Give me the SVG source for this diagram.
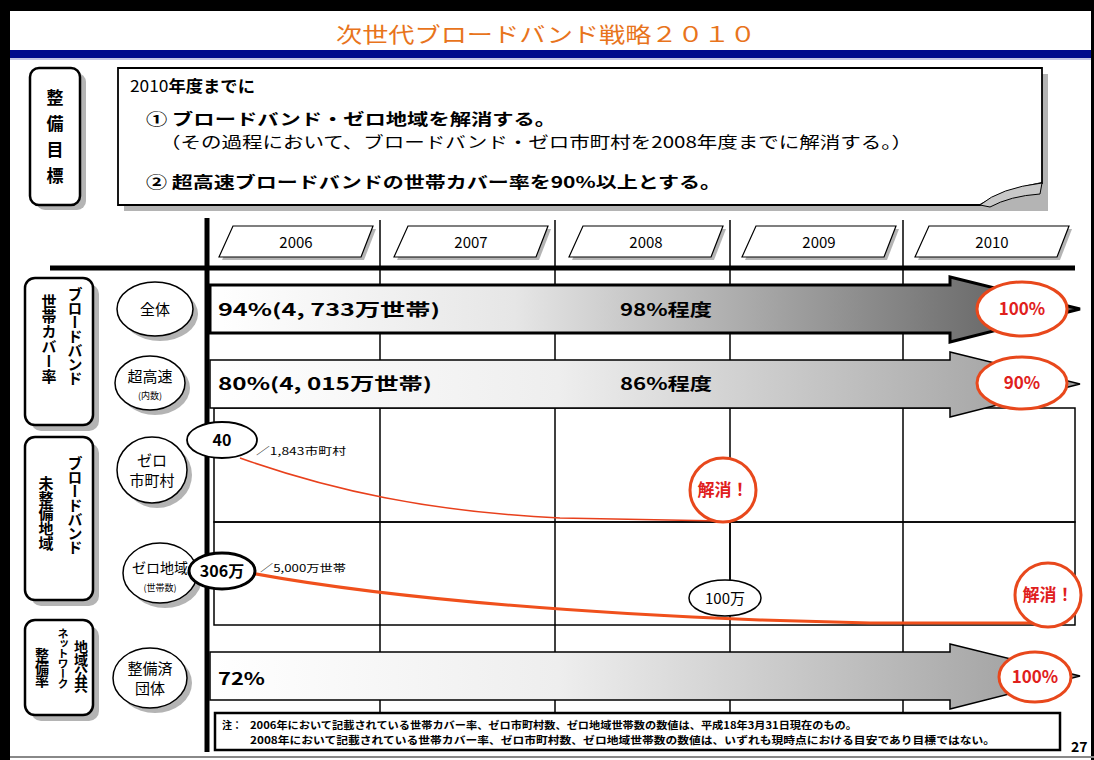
<svg xmlns="http://www.w3.org/2000/svg" width="1094" height="760" viewBox="0 0 1094 760">
<defs>
<style>
.jp{font-family:"Noto Sans CJK JP","Noto Sans",sans-serif}
.b{font-weight:bold}
.lbl{fill:#fff;stroke:#000;stroke-width:2.5}
.sh{fill:#b4b4b4}
.col{stroke:#000;stroke-width:1.5}
.red{fill:#fff;stroke:#e8481c;stroke-width:3}
.rt{fill:#e0201c;font-weight:bold;font-size:17px;text-anchor:middle}
</style>
<linearGradient id="g1" x1="0" x2="1" y1="0" y2="0">
<stop offset="0" stop-color="#ffffff"/><stop offset="0.35" stop-color="#e6e6e6"/><stop offset="1" stop-color="#555555"/>
</linearGradient>
<linearGradient id="g2" x1="0" x2="1" y1="0" y2="0">
<stop offset="0" stop-color="#ffffff"/><stop offset="0.4" stop-color="#eeeeee"/><stop offset="1" stop-color="#9a9a9a"/>
</linearGradient>
</defs>
<rect width="1094" height="760" fill="#fff"/>
<!-- frame -->
<rect x="0" y="0" width="1094" height="11" fill="#000"/>
<rect x="0" y="0" width="10" height="760" fill="#000"/>
<rect x="1091" y="0" width="3" height="760" fill="#000"/>
<line x1="10" y1="757" x2="1094" y2="757" stroke="#888" stroke-width="2"/>
<!-- title -->
<g id="title">
<text x="336" y="42" class="jp" font-size="21" fill="#e8741c" textLength="420" lengthAdjust="spacingAndGlyphs">次世代ブロードバンド戦略２０１０</text>
<rect x="10" y="50" width="1081" height="8" fill="#000c8c"/>
<line x1="10" y1="59" x2="1091" y2="59" stroke="#8890c8" stroke-width="1"/>
</g>
<!-- goal label -->
<g id="goal-label">
<rect x="36" y="73" width="50" height="137" rx="9" class="sh"/>
<rect x="30" y="68" width="50" height="137" rx="9" class="lbl"/>
<text class="jp b" font-size="17" text-anchor="middle"><tspan x="55" y="104">整</tspan><tspan x="55" y="130">備</tspan><tspan x="55" y="156">目</tspan><tspan x="55" y="182">標</tspan></text>
</g>
<!-- goal box -->
<g id="goal-box">
<path d="M124,74 H1048 V211 H124 Z" class="sh"/>
<path d="M118,68 H1042 V183 Q1005,190 980,205 H118 Z" fill="#fff" stroke="#000" stroke-width="1.8"/>
<path d="M980,205 Q1000,188 1042,183 L1040,194 Q1010,196 990,207 Z" fill="#c8c8c8" stroke="#000" stroke-width="1"/>
<text x="130" y="92" class="jp" font-size="16" textLength="125" lengthAdjust="spacingAndGlyphs"><tspan>2010</tspan><tspan font-weight="bold">年度までに</tspan></text>
<text x="146" y="125" class="jp b" font-size="16" textLength="410" lengthAdjust="spacingAndGlyphs">①  ブロードバンド・ゼロ地域を解消する。</text>
<text x="160" y="148" class="jp" font-size="16" textLength="752" lengthAdjust="spacingAndGlyphs">（その過程において、ブロードバンド・ゼロ市町村を2008年度までに解消する。）</text>
<text x="146" y="188" class="jp b" font-size="16" textLength="575" lengthAdjust="spacingAndGlyphs">②  超高速ブロードバンドの世帯カバー率を90%以上とする。</text>
</g>
<!-- grid -->
<g id="grid">
<line x1="380" y1="220" x2="380" y2="712" class="col"/>
<line x1="555" y1="220" x2="555" y2="712" class="col"/>
<line x1="730" y1="220" x2="730" y2="712" class="col"/>
<line x1="903" y1="220" x2="903" y2="712" class="col"/>
<rect x="214" y="408" width="861" height="114" fill="none" stroke="#000" stroke-width="1.5"/>
<rect x="214" y="522" width="861" height="103" fill="none" stroke="#000" stroke-width="1.5"/>
<line x1="50" y1="268" x2="1075" y2="268" stroke="#000" stroke-width="5"/>
<line x1="207" y1="218" x2="207" y2="752" stroke="#000" stroke-width="5"/>
</g>
<!-- years -->
<g id="years" class="jp" font-size="15" text-anchor="middle">
<g id="y2006"><polygon points="236,229 376,229 364,260 222,260" class="sh"/><polygon points="233,226 373,226 361,257 219,257" fill="#fff" stroke="#000" stroke-width="1.2"/><text x="296" y="248">2006</text></g>
<g id="y2007"><polygon points="411,229 551,229 539,260 397,260" class="sh"/><polygon points="408,226 548,226 536,257 394,257" fill="#fff" stroke="#000" stroke-width="1.2"/><text x="471" y="248">2007</text></g>
<g id="y2008"><polygon points="586,229 726,229 714,260 572,260" class="sh"/><polygon points="583,226 723,226 711,257 569,257" fill="#fff" stroke="#000" stroke-width="1.2"/><text x="646" y="248">2008</text></g>
<g id="y2009"><polygon points="759,229 899,229 887,260 745,260" class="sh"/><polygon points="756,226 896,226 884,257 742,257" fill="#fff" stroke="#000" stroke-width="1.2"/><text x="819" y="248">2009</text></g>
<g id="y2010"><polygon points="932,229 1072,229 1060,260 918,260" class="sh"/><polygon points="929,226 1069,226 1057,257 915,257" fill="#fff" stroke="#000" stroke-width="1.2"/><text x="992" y="248">2010</text></g>
</g>
<!-- category labels -->
<g id="cat-coverage">
<rect x="31" y="284" width="68" height="147" rx="10" class="sh"/>
<rect x="25" y="278" width="68" height="147" rx="10" class="lbl"/>
<text class="jp b" font-size="15" writing-mode="tb" glyph-orientation-vertical="0" x="75" y="287" letter-spacing="-1">ブロードバンド</text>
<text class="jp b" font-size="15" writing-mode="tb" glyph-orientation-vertical="0" x="49" y="294">世帯カバー率</text>
</g>
<g id="cat-unserved">
<rect x="31" y="443" width="68" height="163" rx="10" class="sh"/>
<rect x="25" y="437" width="68" height="163" rx="10" class="lbl"/>
<text class="jp b" font-size="15" writing-mode="tb" glyph-orientation-vertical="0" x="75" y="456" letter-spacing="-1">ブロードバンド</text>
<text class="jp b" font-size="15" writing-mode="tb" glyph-orientation-vertical="0" x="46" y="476">未整備地域</text>
</g>
<g id="cat-network">
<rect x="31" y="626" width="68" height="95" rx="10" class="sh"/>
<rect x="25" y="620" width="68" height="95" rx="10" class="lbl"/>
<text class="jp b" font-size="14" writing-mode="tb" glyph-orientation-vertical="0" x="81" y="640" letter-spacing="-1">地域公共</text>
<text class="jp b" font-size="11" writing-mode="tb" glyph-orientation-vertical="0" x="63" y="628" letter-spacing="-1">ネットワーク</text>
<text class="jp b" font-size="14" writing-mode="tb" glyph-orientation-vertical="0" x="42" y="648" letter-spacing="-1">整備率</text>
</g>
<!-- row labels -->
<g id="lbl-all"><ellipse cx="160" cy="314" rx="38" ry="27" class="sh"/><ellipse cx="155" cy="309" rx="38" ry="27" fill="#fff" stroke="#000" stroke-width="1.5"/><text x="155" y="315" class="jp" font-size="15" text-anchor="middle">全体</text></g>
<g id="lbl-ultra"><ellipse cx="155" cy="388" rx="35" ry="27" class="sh"/><ellipse cx="150" cy="383" rx="35" ry="27" fill="#fff" stroke="#000" stroke-width="1.5"/><text x="150" y="382" class="jp" font-size="15" text-anchor="middle">超高速</text><text x="150" y="399" class="jp" font-size="9" text-anchor="middle">(内数)</text></g>
<g id="lbl-zeromuni"><ellipse cx="157" cy="475" rx="35" ry="33" class="sh"/><ellipse cx="152" cy="470" rx="35" ry="33" fill="#fff" stroke="#000" stroke-width="1.5"/><text x="152" y="466" class="jp" font-size="15" text-anchor="middle">ゼロ</text><text x="152" y="486" class="jp" font-size="15" text-anchor="middle">市町村</text></g>
<g id="lbl-zeroarea"><ellipse cx="165" cy="578" rx="37" ry="30" class="sh"/><ellipse cx="160" cy="573" rx="37" ry="30" fill="#fff" stroke="#000" stroke-width="1.5"/><text x="160" y="573" class="jp" font-size="14" text-anchor="middle">ゼロ地域</text><text x="160" y="591" class="jp" font-size="9" text-anchor="middle">(世帯数)</text></g>
<g id="lbl-done"><ellipse cx="155" cy="683" rx="37" ry="30" class="sh"/><ellipse cx="150" cy="678" rx="37" ry="30" fill="#fff" stroke="#000" stroke-width="1.5"/><text x="150" y="674" class="jp" font-size="15" text-anchor="middle">整備済</text><text x="150" y="694" class="jp" font-size="15" text-anchor="middle">団体</text></g>
<!-- connectors / arrows -->
<g id="connectors">
<path d="M210,285 H950 V277 L1080,309 L950,342 V333 H210 Z" fill="url(#g1)" stroke="#000" stroke-width="3"/>
<path d="M210,360 H950 V352 L1080,384 L950,417 V408 H210 Z" fill="url(#g2)" stroke="#000" stroke-width="1.5"/>
<path d="M210,652 H950 V644 L1080,676 L950,709 V700 H210 Z" fill="url(#g2)" stroke="#000" stroke-width="1.5"/>
<path d="M240,458 C330,490 430,512 560,518 L722,521" fill="none" stroke="#e8401c" stroke-width="1.5"/>
<path d="M240,571 C380,598 560,612 760,620 L870,623 H1040" fill="none" stroke="#f0501c" stroke-width="3"/>
<line x1="730" y1="522" x2="730" y2="582" stroke="#000" stroke-width="1.5"/>
</g>
<!-- row values -->
<g id="row-all">
<text x="218" y="316" class="jp b" font-size="17" textLength="222" lengthAdjust="spacingAndGlyphs">94%(4, 733万世帯)</text>
<text x="620" y="316" class="jp b" font-size="17" textLength="92" lengthAdjust="spacingAndGlyphs">98%程度</text>
<ellipse cx="1022" cy="309" rx="45" ry="27" class="red"/><text x="1022" y="315" class="jp rt">100%</text>
</g>
<g id="row-ultra">
<text x="218" y="390" class="jp b" font-size="17" textLength="214" lengthAdjust="spacingAndGlyphs">80%(4, 015万世帯)</text>
<text x="620" y="390" class="jp b" font-size="17" textLength="92" lengthAdjust="spacingAndGlyphs">86%程度</text>
<ellipse cx="1022" cy="383" rx="45" ry="26" class="red"/><text x="1022" y="389" class="jp rt">90%</text>
</g>
<g id="row-zeromuni">
<ellipse cx="222" cy="440" rx="35" ry="18" fill="#fff" stroke="#000" stroke-width="1.8"/>
<text x="222" y="446" class="jp b" font-size="16" text-anchor="middle">40</text>
<text x="256" y="455" class="jp" font-size="10" textLength="90" lengthAdjust="spacingAndGlyphs">／1,843市町村</text>
<ellipse cx="723" cy="490" rx="33" ry="32" class="red"/><text x="723" y="496" class="jp rt">解消！</text>
</g>
<g id="row-zeroarea">
<ellipse cx="222" cy="571" rx="33" ry="18" fill="#fff" stroke="#000" stroke-width="3"/>
<text x="222" y="577" class="jp b" font-size="16" text-anchor="middle">306万</text>
<text x="260" y="572" class="jp" font-size="10" textLength="86" lengthAdjust="spacingAndGlyphs">／5,000万世帯</text>
<ellipse cx="725" cy="598" rx="36" ry="18" fill="#fff" stroke="#000" stroke-width="1.5"/>
<text x="725" y="604" class="jp" font-size="15" text-anchor="middle">100万</text>
<ellipse cx="1048" cy="595" rx="33" ry="32" class="red"/><text x="1048" y="601" class="jp rt">解消！</text>
</g>
<g id="row-network">
<text x="218" y="685" class="jp b" font-size="17" textLength="47" lengthAdjust="spacingAndGlyphs">72%</text>
<ellipse cx="1035" cy="677" rx="36" ry="25" class="red"/><text x="1035" y="683" class="jp rt">100%</text>
</g>
<!-- footnote -->
<g id="footnote">
<rect x="215" y="713" width="845" height="37" fill="#fff" stroke="#000" stroke-width="2.5"/>
<text x="222" y="729" class="jp b" font-size="10">注：</text>
<text x="250" y="729" class="jp b" font-size="10" textLength="607" lengthAdjust="spacingAndGlyphs">2006年において記載されている世帯カバー率、ゼロ市町村数、ゼロ地域世帯数の数値は、平成18年3月31日現在のもの。</text>
<text x="250" y="744" class="jp b" font-size="10" textLength="745" lengthAdjust="spacingAndGlyphs">2008年において記載されている世帯カバー率、ゼロ市町村数、ゼロ地域世帯数の数値は、いずれも現時点における目安であり目標ではない。</text>
</g>
<text x="1071" y="752" class="jp b" font-size="14">27</text>
</svg>
